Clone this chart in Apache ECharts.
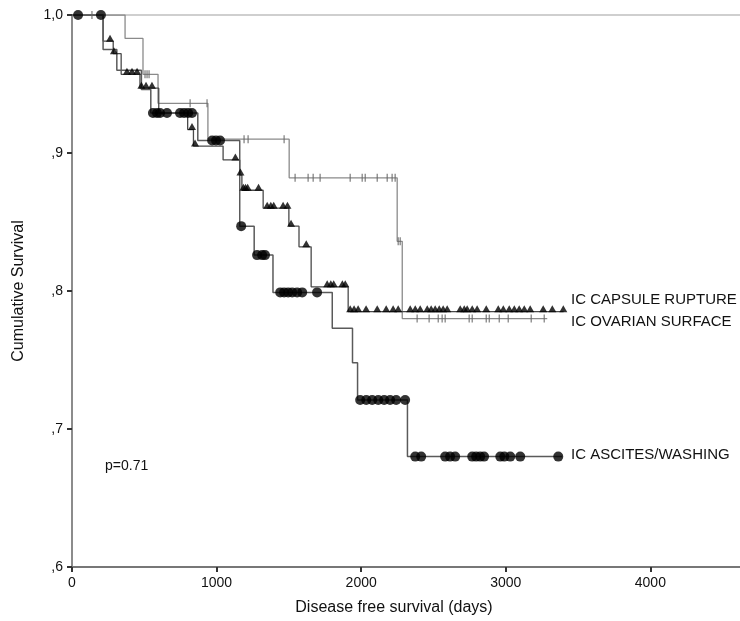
<!DOCTYPE html>
<html>
<head>
<meta charset="utf-8">
<script src="https://cdn.jsdelivr.net/npm/echarts@6/dist/echarts.min.js"></script>
<style>
  html, body { margin: 0; padding: 0; background: #fff; }
  #chart { width: 740px; height: 621px; }
</style>
</head>
<body>
<div id="chart"></div>
<script>
// Kaplan-Meier steps: [day at which the level changes, new survival level]
const ascitesSteps = [[0, 1.0], [215, 0.975], [310, 0.960], [480, 0.946], [545, 0.929], [870, 0.909],
  [1160, 0.847], [1260, 0.826], [1390, 0.799], [1800, 0.773], [1940, 0.748], [1975, 0.721], [2320, 0.680]];
const ascitesEnd = 3390;
const ascitesCensored = [42, 200, 560, 588, 609, 657, 747, 775, 803, 830, 969, 996, 1024, 1170, 1280, 1315, 1335,
  1440, 1467, 1495, 1523, 1557, 1592, 1695, 1993, 2035, 2076, 2118, 2159, 2200, 2242, 2304, 2374, 2415, 2581,
  2615, 2650, 2768, 2795, 2823, 2850, 2962, 2990, 3031, 3100, 3363];

const capsuleSteps = [[0, 1.0], [215, 0.981], [285, 0.972], [340, 0.957], [470, 0.947], [600, 0.929], [800, 0.917],
  [840, 0.905], [1045, 0.895], [1160, 0.884], [1175, 0.873], [1322, 0.860], [1500, 0.847], [1570, 0.832],
  [1654, 0.803], [1910, 0.785]];
const capsuleEnd = 3400;
const capsuleCensored = [263, 290, 380, 415, 450, 480, 512, 553, 830, 851, 1130, 1165, 1185, 1200, 1215, 1290, 1350,
  1375, 1395, 1460, 1490, 1515, 1620, 1765, 1790, 1810, 1870, 1890, 1924, 1951, 1979, 2034, 2111, 2173, 2221,
  2256, 2339, 2374, 2408, 2457, 2484, 2512, 2540, 2567, 2595, 2685, 2713, 2733, 2768, 2802, 2865, 2948, 2983,
  3024, 3059, 3093, 3128, 3169, 3259, 3322, 3398];

const surfaceSteps = [[0, 1.0], [367, 0.983], [491, 0.957], [595, 0.936], [940, 0.910], [1502, 0.882],
  [2249, 0.836], [2284, 0.780]];
const surfaceEnd = 3287;
const surfaceCensored = [138, 505, 519, 533, 817, 934, 1190, 1218, 1467, 1543, 1633, 1668, 1716, 1924, 2007, 2028,
  2111, 2180, 2214, 2235, 2256, 2270, 2387, 2470, 2533, 2560, 2581, 2747, 2768, 2865, 2886, 2955, 3017, 3176, 3266];

// group without events stays at 1.0 across the whole follow-up
const noEventSteps = [[0, 1.0]];
const noEventEnd = 4620;

const xTicks = [0, 1000, 2000, 3000, 4000];
const yTickLabels = { '1': '1,0', '0.9': ',9', '0.8': ',8', '0.7': ',7', '0.6': ',6' };

// survival level in force on a given day
function levelAt(steps, day) {
  let v = steps[0][1];
  for (const [d, s] of steps) { if (d <= day) v = s; }
  return v;
}
function curve(steps, end) {
  return steps.concat([[end, steps[steps.length - 1][1]]]);
}
function marks(steps, days) {
  return days.map(d => [d, levelAt(steps, d)]);
}

const font = 'Liberation Sans, Arial, sans-serif';
const chart = echarts.init(document.getElementById('chart'));
chart.setOption({
  animation: false,
  backgroundColor: '#fff',
  grid: { left: 72, right: 0, top: 15, bottom: 54, containLabel: false, outerBoundsMode: 'none' },
  xAxis: {
    type: 'value', min: 0, max: noEventEnd, interval: 1000,
    name: 'Disease free survival (days)', nameLocation: 'middle', nameGap: 33,
    nameTextStyle: { fontFamily: font, fontSize: 16, color: '#111', padding: [0, 24, 0, 0] },
    axisLine: { lineStyle: { color: '#777', width: 2 } },
    axisTick: { length: 5, lineStyle: { color: '#333', width: 2 } },
    axisLabel: { fontFamily: font, fontSize: 14, color: '#111', margin: 9, showMaxLabel: false,
      formatter: v => xTicks.includes(v) ? String(v) : '' },
    splitLine: { show: false }
  },
  yAxis: {
    type: 'value', min: 0.6, max: 1.0, interval: 0.1,
    name: 'Cumulative Survival', nameLocation: 'middle', nameGap: 45, nameRotate: 90,
    nameTextStyle: { fontFamily: font, fontSize: 16, color: '#111' },
    axisLine: { show: true, lineStyle: { color: '#666', width: 1.5 } },
    axisTick: { show: true, length: 5, lineStyle: { color: '#333', width: 2 } },
    axisLabel: { fontFamily: font, fontSize: 14, color: '#111', margin: 9,
      formatter: v => yTickLabels[String(Math.round(v * 10) / 10)] || '' },
    splitLine: { show: false }
  },
  series: [
    { type: 'line', step: 'end', data: curve(noEventSteps, noEventEnd), symbol: 'none',
      lineStyle: { color: '#cfcfcf', width: 2 }, z: 1 },
    { type: 'line', step: 'end', data: curve(surfaceSteps, surfaceEnd), symbol: 'none',
      lineStyle: { color: '#8a8a8a', width: 1.3 }, z: 2 },
    { type: 'line', step: 'end', data: curve(capsuleSteps, capsuleEnd), symbol: 'none',
      lineStyle: { color: '#4a4a4a', width: 1.3 }, z: 3 },
    { type: 'line', step: 'end', data: curve(ascitesSteps, ascitesEnd), symbol: 'none',
      lineStyle: { color: '#5a5a5a', width: 1.5 }, z: 3 },
    { type: 'scatter', data: marks(surfaceSteps, surfaceCensored), symbol: 'rect', symbolSize: [1.3, 8],
      itemStyle: { color: '#666' }, z: 4 },
    { type: 'scatter', data: marks(capsuleSteps, capsuleCensored), symbol: 'triangle', symbolSize: [8, 7],
      symbolOffset: [0, -3], itemStyle: { color: '#000' }, z: 5 },
    { type: 'scatter', data: marks(ascitesSteps, ascitesCensored), symbol: 'circle', symbolSize: 10,
      itemStyle: { color: '#000' }, z: 6 }
  ],
  graphic: [
    { type: 'text', left: 571, top: 292, style: { text: 'IC CAPSULE RUPTURE', font: '15px ' + font, fill: '#111' } },
    { type: 'text', left: 571, top: 314, style: { text: 'IC OVARIAN SURFACE', font: '15px ' + font, fill: '#111' } },
    { type: 'text', left: 571, top: 447, style: { text: 'IC ASCITES/WASHING', font: '15px ' + font, fill: '#111' } },
    { type: 'text', left: 105, top: 459, style: { text: 'p=0.71', font: '14px ' + font, fill: '#111' } }
  ]
});
</script>
</body>
</html>
